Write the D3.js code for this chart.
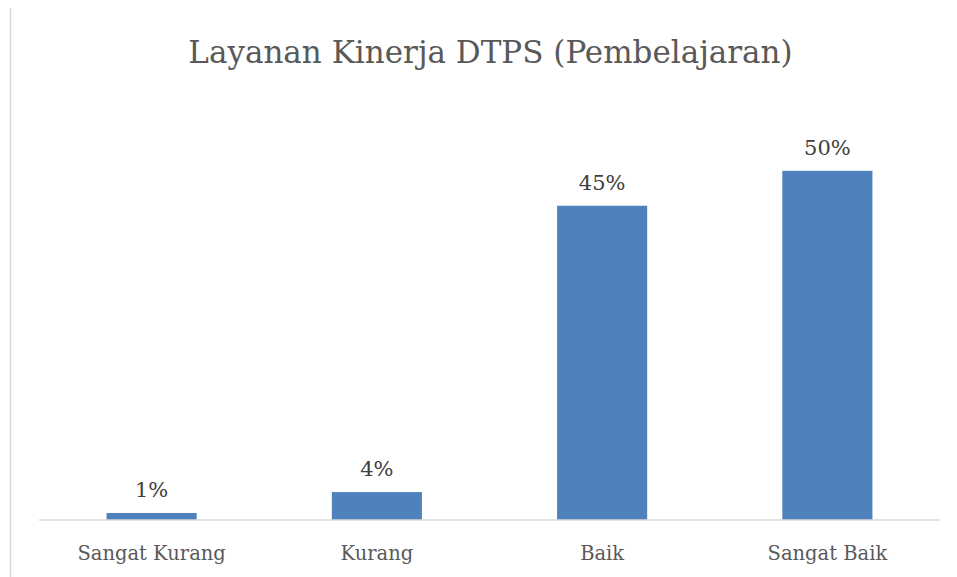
<!DOCTYPE html>
<html>
<head>
<meta charset="utf-8">
<script src="https://cdn.jsdelivr.net/npm/d3@7"></script>
<style>
  body { margin: 0; background: #fff; }
  text { font-family: "DejaVu Serif", serif; }
</style>
</head>
<body>
<svg width="957" height="577"></svg>
<script>
const categories = ["Sangat Kurang", "Kurang", "Baik", "Sangat Baik"];
const values = [0.01, 0.04, 0.45, 0.50];
const labels = ["1%", "4%", "45%", "50%"];
const title = "Layanan Kinerja DTPS (Pembelajaran)";

const width = 957;
const height = 577;
const margin = ({ top: 101, right: 17, bottom: 57, left: 39 });

const data = categories.map((c, i) => ({ name: c, value: values[i], label: labels[i] }));

const x = d3.scaleBand()
    .domain(categories)
    .range([margin.left, width - margin.right])
    .paddingInner(0.6)
    .paddingOuter(0.3);

const y = d3.scaleLinear()
    .domain([0, 0.6])
    .range([height - margin.bottom, margin.top]);

const svg = d3.select("svg")
    .attr("viewBox", [0, 0, width, height]);

// chart area border (left edge only visible)
svg.append("line")
    .attr("x1", 10.5).attr("x2", 10.5)
    .attr("y1", 8).attr("y2", height)
    .attr("stroke", "#d9d9d9")
    .attr("stroke-width", 1.5);

svg.append("text")
    .attr("x", (margin.left + width - margin.right) / 2 + 1)
    .attr("y", 63)
    .attr("text-anchor", "middle")
    .attr("fill", "#595959")
    .attr("font-size", 31)
    .text(title);

svg.append("g")
    .attr("fill", "#4f81bd")
    .selectAll("rect")
    .data(data)
    .join("rect")
    .attr("x", d => x(d.name))
    .attr("y", d => y(d.value))
    .attr("height", d => y(0) - y(d.value))
    .attr("width", x.bandwidth());

svg.append("g")
    .attr("fill", "#404040")
    .attr("font-size", 21)
    .attr("text-anchor", "middle")
    .selectAll("text")
    .data(data)
    .join("text")
    .attr("x", d => x(d.name) + x.bandwidth() / 2)
    .attr("y", d => y(d.value) - 16)
    .text(d => d.label);

const xAxis = g => g
    .attr("transform", `translate(0,${y(0)})`)
    .call(d3.axisBottom(x).tickSize(0).tickPadding(26))
    .call(g => g.select(".domain").attr("stroke", "#d9d9d9").attr("stroke-width", 1.5)
        .attr("d", `M${margin.left},0H${width - margin.right}`))
    .call(g => g.selectAll("text")
        .attr("font-family", "DejaVu Serif")
        .attr("font-size", 19.5)
        .attr("fill", "#595959"));

svg.append("g").call(xAxis);
</script>
</body>
</html>
